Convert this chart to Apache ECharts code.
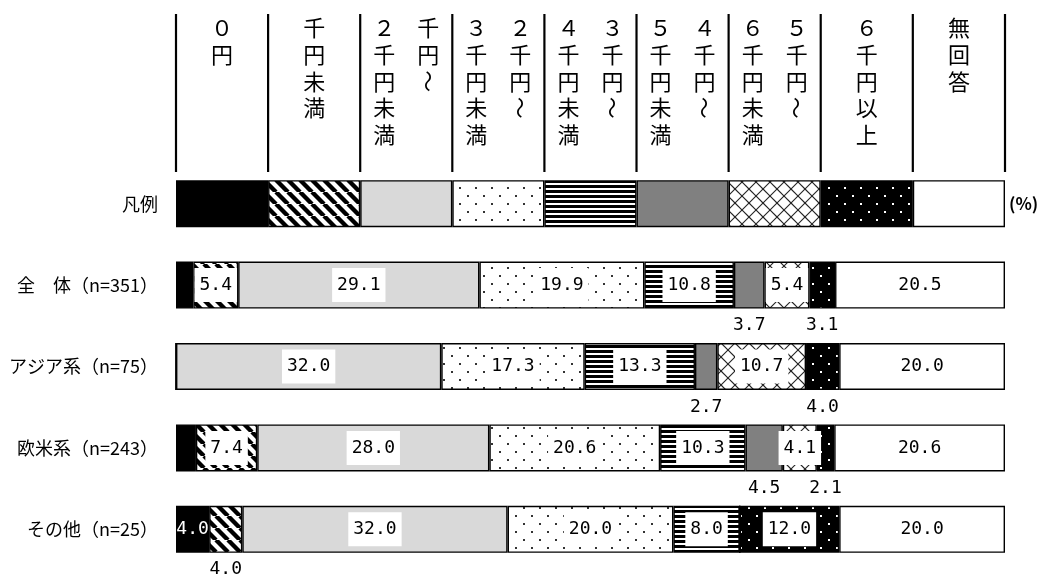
<!DOCTYPE html>
<html><head><meta charset="utf-8">
<script src="https://cdn.jsdelivr.net/npm/echarts@6/dist/echarts.min.js"></script>
<style>html,body{margin:0;padding:0;background:#fff}#c{width:1050px;height:579px}</style>
</head><body><div id="c"></div>
<script>
// ---- data ----
const legendLabel = '凡例';
const groups = ['全　体（n=351）', 'アジア系（n=75）', '欧米系（n=243）', 'その他（n=25）'];
const seriesNames = ['0円', '千円未満', '千円～2千円未満', '2千円～3千円未満', '3千円～4千円未満',
  '4千円～5千円未満', '5千円～6千円未満', '6千円以上', '無回答'];
const yen0     = [2.1, 0, 2.4, 4.0];
const under1k  = [5.4, 0, 7.4, 4.0];
const k1to2    = [29.1, 32.0, 28.0, 32.0];
const k2to3    = [19.9, 17.3, 20.6, 20.0];
const k3to4    = [10.8, 13.3, 10.3, 8.0];
const k4to5    = [3.7, 2.7, 4.5, 0];
const k5to6    = [5.4, 10.7, 4.1, 0];
const over6k   = [3.1, 4.0, 2.1, 12.0];
const noAnswer = [20.5, 20.0, 20.6, 20.0];
const legendCells = [11.11, 11.11, 11.11, 11.11, 11.11, 11.11, 11.11, 11.11, 11.12];
const seriesValues = [yen0, under1k, k1to2, k2to3, k3to4, k4to5, k5to6, over6k, noAnswer];

// label placement per series / group: i = inside box, b = below, w = inside white text, n = none
const labelModes = [
  ['n', 'n', 'n', 'w'],
  ['i', 'n', 'i', 'b'],
  ['i', 'i', 'i', 'i'],
  ['i', 'i', 'i', 'i'],
  ['i', 'i', 'i', 'i'],
  ['b', 'b', 'b', 'n'],
  ['i', 'i', 'i', 'n'],
  ['b', 'b', 'b', 'i'],
  ['i', 'i', 'i', 'i']
];

// header: each column -> sub-columns left to right, each a list of characters
const headerCols = [
  [['０', '円']],
  [['千', '円', '未', '満']],
  [['２', '千', '円', '未', '満'], ['千', '円', '～']],
  [['３', '千', '円', '未', '満'], ['２', '千', '円', '～']],
  [['４', '千', '円', '未', '満'], ['３', '千', '円', '～']],
  [['５', '千', '円', '未', '満'], ['４', '千', '円', '～']],
  [['６', '千', '円', '未', '満'], ['５', '千', '円', '～']],
  [['６', '千', '円', '以', '上']],
  [['無', '回', '答']]
];

// ---- patterns ----
function tile(w, h, draw) {
  const c = document.createElement('canvas');
  c.width = w; c.height = h;
  const g = c.getContext('2d');
  draw(g, w, h);
  return { image: c, repeat: 'repeat' };
}
const pDiag = tile(12, 12, (g) => {
  g.fillStyle = '#fff'; g.fillRect(0, 0, 12, 12);
  g.strokeStyle = '#000'; g.lineWidth = 4.4;
  for (let k = -1; k <= 1; k++) { g.beginPath(); g.moveTo(k * 12, 0); g.lineTo(k * 12 + 12, 12); g.stroke(); }
});
const pDots = tile(16, 16, (g) => {
  g.fillStyle = '#fff'; g.fillRect(0, 0, 16, 16);
  g.fillStyle = '#333'; g.fillRect(3, 3, 2, 2); g.fillRect(11, 11, 2, 2);
});
const pHStripe = tile(5, 5, (g) => {
  g.fillStyle = '#fff'; g.fillRect(0, 0, 5, 5);
  g.fillStyle = '#000'; g.fillRect(0, 0, 5, 3);
});
const pLattice = tile(14, 14, (g) => {
  g.fillStyle = '#fff'; g.fillRect(0, 0, 14, 14);
  g.strokeStyle = '#222'; g.lineWidth = 1.1;
  g.beginPath(); g.moveTo(0, 14); g.lineTo(14, 0); g.stroke();
  g.beginPath(); g.moveTo(-7, 7); g.lineTo(7, -7); g.stroke();
  g.beginPath(); g.moveTo(7, 21); g.lineTo(21, 7); g.stroke();
  g.beginPath(); g.moveTo(0, 0); g.lineTo(7, 7); g.stroke();
  g.beginPath(); g.moveTo(7, 7); g.lineTo(14, 14); g.stroke();
});
const pBlackDots = tile(16, 16, (g) => {
  g.fillStyle = '#000'; g.fillRect(0, 0, 16, 16);
  g.fillStyle = '#fff'; g.fillRect(4, 3, 2, 2); g.fillRect(12, 11, 2, 2);
});
const fills = ['#000000', pDiag, '#d9d9d9', pDots, pHStripe, '#808080', pLattice, pBlackDots, '#ffffff'];

const numFont = 'DejaVu Sans Mono';
function labelFor(mode) {
  if (mode === 'i') return { show: true, position: 'inside', color: '#000', backgroundColor: '#fff',
    padding: [8, 5], fontSize: 18, fontFamily: numFont };
  if (mode === 'w') return { show: true, position: 'inside', color: '#fff', fontSize: 18, fontFamily: numFont };
  if (mode === 'b') return { show: true, position: 'bottom', distance: 8, color: '#000', fontSize: 18, fontFamily: numFont };
  return { show: false };
}

const series = seriesNames.map((name, si) => ({
  name, type: 'bar', stack: 'total', barWidth: 47,
  itemStyle: { color: fills[si], borderColor: '#000', borderWidth: 1.4 },
  label: { formatter: (p) => Number(p.value).toFixed(1) },
  data: [{ value: legendCells[si], label: { show: false } }].concat(
    seriesValues[si].map((v, gi) => ({ value: v, label: v === 0 ? { show: false } : labelFor(labelModes[si][gi]) }))
  )
}));

const chart = echarts.init(document.getElementById('c'), null, { renderer: 'canvas' });
chart.setOption({
  animation: false,
  backgroundColor: '#fff',
  grid: { left: 176, right: 45, top: 163, bottom: 9, containLabel: false },
  xAxis: { type: 'value', min: 0, max: 100, show: false },
  yAxis: {
    type: 'category', inverse: true, data: [legendLabel].concat(groups),
    axisLine: { show: false }, axisTick: { show: false },
    axisLabel: { color: '#000', fontSize: 18, margin: 18, fontFamily: 'Noto Sans CJK JP' }
  },
  series
});

// ---- header (column captions aligned to the legend cells) ----
const xs = [chart.convertToPixel({ xAxisIndex: 0 }, 0)];
let cum = 0;
legendCells.forEach((v) => { cum += v; xs.push(chart.convertToPixel({ xAxisIndex: 0 }, cum)); });
const legendY = chart.convertToPixel({ yAxisIndex: 0 }, legendLabel);
const graphic = [];
xs.forEach((x) => {
  graphic.push({ type: 'line', shape: { x1: x, y1: 14, x2: x, y2: 172 }, style: { stroke: '#000', lineWidth: 2.2 } });
});
headerCols.forEach((subs, ci) => {
  const cx = (xs[ci] + xs[ci + 1]) / 2;
  subs.forEach((chars, k) => {
    const off = subs.length === 2 ? (k === 0 ? -22 : 22) : 0;
    chars.forEach((ch, j) => {
      graphic.push({
        type: 'text', x: cx + off, y: 28 + j * 26.6,
        rotation: ch === '～' ? -Math.PI / 2 : 0,
        style: { text: ch, fontSize: 22, fontFamily: 'Noto Sans CJK JP', fill: '#000', align: 'center', verticalAlign: 'middle' }
      });
    });
  });
});
graphic.push({
  type: 'text', x: xs[xs.length - 1] + 4, y: legendY,
  style: { text: '(%)', fontSize: 17, fontWeight: 'bold', fontFamily: 'Noto Sans CJK JP', fill: '#000', align: 'left', verticalAlign: 'middle' }
});
chart.setOption({ graphic });
</script>
</body></html>
